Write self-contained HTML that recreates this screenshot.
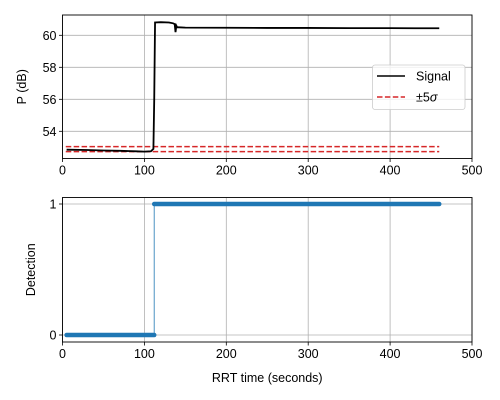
<!DOCTYPE html>
<html><head><meta charset="utf-8"><style>
body{margin:0;background:#fff}
svg{display:block;font-family:"Liberation Sans","DejaVu Sans",sans-serif}
</style></head><body>
<svg id="c" width="500" height="400" xmlns="http://www.w3.org/2000/svg"></svg>
<script>
const xTicks=[0,100,200,300,400,500];
const pTicks=[54,56,58,60];
const detTicks=[0,1];
const sigX=[5,30,50,70,90,100,108,111,112,113,120,130,135,137,138,139,140,142,150,200,250,300,350,400,430,460];
const sigY=[52.85,52.83,52.8,52.78,52.75,52.73,52.75,52.9,56,60.8,60.82,60.8,60.75,60.7,60.2,60.6,60.5,60.5,60.48,60.47,60.46,60.46,60.45,60.45,60.44,60.44];
const sigmaHi=53.04, sigmaLo=52.73, sigmaX0=4, sigmaX1=460;
const detX=[5,112,112,460];
const detY=[0,0,1,1];
const NS="http://www.w3.org/2000/svg";
const svg=document.getElementById('c');
function mk(t,a,p){const e=document.createElementNS(NS,t);for(const k in a)e.setAttribute(k,a[k]);(p||svg).appendChild(e);return e;}
const L=62.5,R=472;
const sx=v=>L+(v-0)/500*(R-L);
const T1=15,B1=158.5, py=v=>131.3-(v-54)*16;
const T2=197.5,B2=342, dy=v=>335-(v)*131;
function axes(top,bot,yt,yf,ylab,name){
  const g=mk('g',{});
  
  xTicks.forEach(t=>{const x=sx(t);
    const gl=mk('line',{x1:x,x2:x,y1:top,y2:bot,stroke:'#b0b0b0','stroke-width':0.8},g);
    mk('line',{x1:x,x2:x,y1:bot,y2:bot+3.5,stroke:'#000','stroke-width':0.8},g);
    const tx=mk('text',{x:x,y:bot+16,'text-anchor':'middle','font-size':12.5},g);tx.textContent=t;});
  yt.forEach(t=>{const y=yf(t);
    const gl=mk('line',{x1:L,x2:R,y1:y,y2:y,stroke:'#b0b0b0','stroke-width':0.8},g);
    mk('line',{x1:L-3.5,x2:L,y1:y,y2:y,stroke:'#000','stroke-width':0.8},g);
    const tx=mk('text',{x:L-6,y:y+4.5,'text-anchor':'end','font-size':12.5},g);tx.textContent=t;});
  const yl=mk('text',{'font-size':12.5,'text-anchor':'middle'},g);
  yl.setAttribute('transform','translate('+(name==='top-axes'?26:35)+','+((top+bot)/2)+') rotate(-90)');
  yl.textContent=ylab;
  return g;
}
const g1=axes(T1,B1,pTicks,py,'P (dB)','top-axes');
const ph=mk('path',{d:'M'+[sigmaX0,sigmaX1].map(v=>sx(v)+','+py(sigmaHi)).join('L'),stroke:'#d62728','stroke-width':1.5,'stroke-dasharray':'5.5,2.4',fill:'none'});

const pl=mk('path',{d:'M'+[sigmaX0,sigmaX1].map(v=>sx(v)+','+py(sigmaLo)).join('L'),stroke:'#d62728','stroke-width':1.5,'stroke-dasharray':'5.5,2.4',fill:'none'});

const sp=mk('path',{d:'M'+sigX.map((v,i)=>sx(v)+','+py(sigY[i])).join('L'),stroke:'#000','stroke-width':1.8,fill:'none'});

mk('rect',{x:L,y:T1,width:R-L,height:B1-T1,fill:'none',stroke:'#000','stroke-width':0.9});
const lg=mk('g',{});
mk('rect',{x:372.5,y:65,width:92.5,height:44.5,rx:2.5,fill:'#fff','fill-opacity':0.8,stroke:'#ccc','stroke-width':0.8},lg);
mk('line',{x1:377,x2:405,y1:76,y2:76,stroke:'#000','stroke-width':1.6},lg);
let t=mk('text',{x:416,y:80.5,'font-size':12.5},lg);t.textContent='Signal';
mk('line',{x1:377,x2:405,y1:97,y2:97,stroke:'#d62728','stroke-width':1.5,'stroke-dasharray':'5.5,2.4'},lg);
t=mk('text',{x:416,y:101.5,'font-size':12.5},lg);t.textContent='±5';
const ts=mk('tspan',{'font-style':'italic'},t);ts.textContent='σ';


const g2=axes(T2,B2,detTicks,dy,'Detection','bottom-axes');
const dl=mk('path',{d:'M'+detX.map((v,i)=>sx(v)+','+dy(detY[i])).join('L'),stroke:'#1f77b4','stroke-width':1,fill:'none','stroke-opacity':0.8});

[[0,1],[2,3]].forEach(([a,b])=>{const m=mk('line',{x1:sx(detX[a]),x2:sx(detX[b]),y1:dy(detY[a]),y2:dy(detY[b]),stroke:'#1f77b4','stroke-width':4.5,'stroke-linecap':'round'});
});
mk('rect',{x:L,y:T2,width:R-L,height:B2-T2,fill:'none',stroke:'#000','stroke-width':0.9});
const xl=mk('text',{x:(L+R)/2,y:382,'text-anchor':'middle','font-size':12.5});xl.textContent='RRT time (seconds)';

</script>
</body></html>
